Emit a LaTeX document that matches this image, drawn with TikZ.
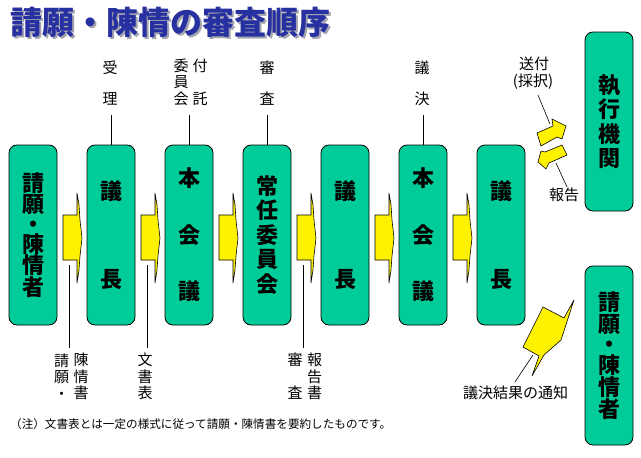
\documentclass[tikz,border=0pt]{standalone}
\usepackage{fontspec}
\setmainfont{Noto Sans CJK JP}
\definecolor{gr}{RGB}{0,204,153}
\definecolor{ttl}{RGB}{38,48,160}
\definecolor{shd}{RGB}{165,165,175}
\begin{document}
\begin{tikzpicture}[x=1pt,y=-1pt,
 gbox/.style={draw=black,line width=0.8pt,fill=gr,rounded corners=8pt,minimum width=48pt,minimum height=180pt,inner sep=0pt,align=center,font=\fontsize{22}{22}\selectfont\bfseries},
 lbl/.style={inner sep=0pt,font=\fontsize{15}{16.5}\selectfont,align=center},
 yarrow/.style={fill=yellow,draw=black,line width=0.6pt,line join=miter},
 ln/.style={draw=black,line width=0.6pt}]
\useasboundingbox (0,0) rectangle (641,458);
\fill[white] (0,0) rectangle (641,458);
% title
\node[anchor=west,inner sep=0pt,text=shd,font=\fontsize{32}{32}\selectfont\bfseries] (titleshadow) at (12,24) {請願・陳情の審査順序};
\node[anchor=west,inner sep=0pt,text=ttl,font=\fontsize{32}{32}\selectfont\bfseries] (title) at (10,22) {請願・陳情の審査順序};
% boxes
\node[gbox,font=\fontsize{22}{21.4}\selectfont\bfseries] (b1) at (33,235) {請\\願\\[-1.5pt]・\\[-1.5pt]陳\\情\\者};
\node[gbox] (b2) at (111,235) {議\\[66pt]長};
\node[gbox] (b3) at (189,235) {本\\[34.5pt]会\\[34.5pt]議};
\node[gbox,font=\fontsize{22}{24.5}\selectfont\bfseries] (b4) at (267,235) {常\\任\\委\\員\\会};
\node[gbox] (b5) at (345,235) {議\\[66pt]長};
\node[gbox] (b6) at (423,235) {本\\[34.5pt]会\\[34.5pt]議};
\node[gbox] (b7) at (501,235) {議\\[66pt]長};
\node[gbox,minimum height=179pt,font=\fontsize{22}{24.3}\selectfont\bfseries] (exec) at (609,121.5) {執\\行\\機\\関};
\node[gbox,minimum height=179pt,font=\fontsize{22}{22}\selectfont\bfseries] (pet) at (609,355.5) {請\\願\\[-1.5pt]・\\[-1.5pt]陳\\情\\者};
% arrows between boxes
\foreach \x in {63,141,219,297,375,453}{
  \draw[yarrow] (\x,215) -- (\x+14,215) -- (\x+14,193) -- (\x+16,205) -- (\x+17,220) -- (\x+19,238) -- (\x+17,256) -- (\x+16,270) -- (\x+14,283) -- (\x+14,260) -- (\x,260) -- cycle;
}
% top labels
\node[lbl] (lju) at (110,83.5) {受\\[14.5pt]理};
\node[lbl] (liin) at (181,82) {委\\員\\会};
\node[lbl] (lfu) at (200,82) {付\\[16.5pt]託};
\node[lbl] (lshin) at (267,83.5) {審\\[14.5pt]査};
\node[lbl] (lgi) at (422,83.5) {議\\[14.5pt]決};
\coordinate (t2) at (111,115);
\coordinate (t3) at (189,115);
\coordinate (t4) at (267,115);
\coordinate (t6) at (423,115);
\draw[ln] (t2) -- (b2.north);
\draw[ln] (t3) -- (b3.north);
\draw[ln] (t4) -- (b4.north);
\draw[ln] (t6) -- (b6.north);
% bottom labels
\coordinate (u1) at (69,265); \coordinate (v1) at (69,348);
\coordinate (u2) at (147,265); \coordinate (v2) at (147,348);
\coordinate (u4) at (303,265); \coordinate (v4) at (303,348);
\draw[ln] (u1) -- (v1);
\draw[ln] (u2) -- (v2);
\draw[ln] (u4) -- (v4);
\node[lbl] (lsei) at (61.5,376.5) {請\\願\\・};
\node[lbl] (ljin) at (81,376.5) {陳\\情\\書};
\node[lbl] (lbun) at (145,376.5) {文\\書\\表};
\node[lbl] (lshin2) at (295,376.5) {審\\[16.5pt]査};
\node[lbl] (lho) at (314.5,376.5) {報\\告\\書};
% right arrows
\draw[yarrow] (537,133) -- (553,126) -- (552,119) -- (566,126) -- (562,139) -- (557,137) -- (541,146) -- cycle;
\draw[yarrow] (562,145) -- (567,155) -- (549,163) -- (546,169) -- (538,162) -- (541,151) -- (545,152) -- cycle;
\draw[yarrow] (543,307) -- (564,318) -- (574,300) -- (561,340) -- (544,355) -- (532,376) -- (539,356) -- (523,347) -- cycle;
\node[lbl] (lsofu) at (534,63.5) {送付};
\node[lbl] (lsaitaku) at (533,81.5) {(採択)};
\node[lbl] (lhokoku) at (564,195) {報告};
\node[lbl] (ltsuchi) at (515.5,392.5) {議決結果の通知};
\coordinate (s1) at (538,95); \coordinate (s2) at (550,124);
\coordinate (h1) at (556,163); \coordinate (h2) at (567,187);
\coordinate (n1) at (533,355); \coordinate (n2) at (515,382);
\draw[ln] (s1) -- (s2);
\draw[ln] (h1) -- (h2);
\draw[ln] (n1) -- (n2);
% note
\node[anchor=west,inner sep=0pt,font=\fontsize{11.6}{11.6}\selectfont] (note) at (10,424) {（注）文書表とは一定の様式に従って請願・陳情書を要約したものです。};
\end{tikzpicture}
\end{document}
